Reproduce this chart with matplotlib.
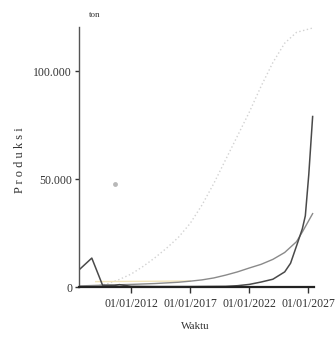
import numpy as np
import pandas as pd
import matplotlib
matplotlib.use("Agg")
import matplotlib.pyplot as plt
import matplotlib.dates as mdates

plt.rcParams['font.family'] = ['Liberation Serif', 'DejaVu Serif']

# produksi (ton) per series
dark_dates = ['2007-08-01', '2008-09-01', '2009-08-01', '2010-08-01', '2011-01-01',
              '2012-01-01', '2014-01-01', '2017-01-01', '2020-01-01', '2021-01-01',
              '2022-01-01', '2023-01-01', '2024-01-01', '2025-01-01', '2025-07-01',
              '2026-01-01', '2026-07-01', '2026-10-01', '2027-01-15', '2027-05-15']
dark_vals = [7900, 13400, 800, 700, 1100,
             300, 200, 200, 300, 600,
             1200, 2300, 3600, 7000, 11000,
             19000, 27000, 33000, 52000, 79000]

gray_dates = ['2007-08-01', '2010-01-01', '2012-01-01', '2014-01-01', '2016-01-01',
              '2017-01-01', '2018-01-01', '2019-01-01', '2020-01-01', '2021-01-01',
              '2022-01-01', '2023-01-01', '2024-01-01', '2025-01-01', '2026-01-01',
              '2026-07-01', '2027-05-15']
gray_vals = [500, 900, 1200, 1600, 2200,
             2700, 3300, 4200, 5500, 7000,
             8800, 10500, 12800, 16000, 21000,
             25500, 34000]

dot_dates = ['2009-01-01', '2010-01-01', '2011-01-01', '2012-01-01', '2013-01-01',
             '2014-01-01', '2015-01-01', '2016-01-01', '2017-01-01', '2018-01-01',
             '2019-01-01', '2020-01-01', '2021-01-01', '2022-01-01', '2023-01-01',
             '2024-01-01', '2025-01-01', '2026-01-01', '2027-05-15']
dot_vals = [500, 1500, 3500, 6000, 9500,
            13500, 18000, 23000, 29500, 38000,
            48000, 59000, 70000, 81000, 93000,
            104000, 113000, 118000, 120000]

pale_dates = ['2009-01-01', '2012-01-01', '2015-01-01', '2017-01-01']
pale_vals = [2500, 2600, 2700, 2800]

single_date = ['2010-08-15']
single_val = [47700]

ytick_vals = [0, 50000, 100000]
ytick_labels = ['0', '50.000', '100.000']
xtick_dates = ['2012-01-01', '2017-01-01', '2022-01-01', '2027-01-01']

fig = plt.figure(figsize=(3.36, 3.5), dpi=100)
ax = fig.add_axes([0.235, 0.18, 0.70, 0.743])

ax.plot(pd.to_datetime(dot_dates), dot_vals, color='#d2d2d2', lw=1.0, ls=(0, (1, 1.8)))
ax.plot(pd.to_datetime(pale_dates), pale_vals, color='#f2e4b8', lw=1.0)
ax.plot(pd.to_datetime(gray_dates), gray_vals, color='#8a8a8a', lw=1.0)
ax.plot(pd.to_datetime(dark_dates), dark_vals, color='#4a4a4a', lw=1.1)
ax.plot(pd.to_datetime(single_date), single_val, 'o', color='#b8b8b8', ms=3.5, mec='none')

ax.set_xlim(pd.Timestamp('2007-08-01'), pd.Timestamp('2027-07-01'))
ax.set_ylim(0, 120500)

ax.set_xticks(pd.to_datetime(xtick_dates))
ax.xaxis.set_major_formatter(mdates.DateFormatter('%d/%m/%Y'))
ax.set_yticks(ytick_vals)
ax.set_yticklabels(ytick_labels)

for s in ['top', 'right']:
    ax.spines[s].set_visible(False)
ax.spines['left'].set_color('#555555')
ax.spines['left'].set_linewidth(1.0)
ax.spines['bottom'].set_color('#222222')
ax.spines['bottom'].set_linewidth(1.6)

ax.tick_params(axis='y', direction='out', length=3, width=1, colors='#333333',
               labelsize=8.5, pad=2)
ax.tick_params(axis='x', direction='out', length=4, width=1, colors='#333333',
               labelsize=8.5, pad=4)

fig.text(0.283, 0.957, 'ton', fontsize=6.5, color='#333333', ha='center', va='center')
fig.text(0.06, 0.543, 'P r o d u k s i', fontsize=9, color='#333333',
         rotation=90, ha='center', va='center')
fig.text(0.58, 0.066, 'Waktu', fontsize=8, color='#333333', ha='center', va='center')

fig.savefig('out.png', dpi=100)
